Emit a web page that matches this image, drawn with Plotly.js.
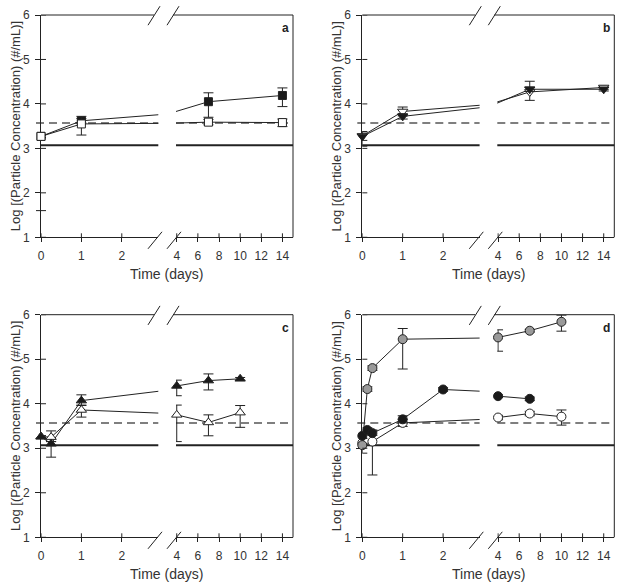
<!DOCTYPE html>
<html><head><meta charset="utf-8">
<script src="https://cdn.plot.ly/plotly-3.0.1.min.js"></script>
<style>html,body{margin:0;padding:0;background:#fff}#chart{width:621px;height:586px}</style>
</head><body><div id="chart"></div>
<script>
// ---------- data ----------
const yTicks = [1, 2, 3, 4, 5, 6];
const xTicksLeft = [0, 1, 2];
const xTicksRight = [4, 6, 8, 10, 12, 14];
const refDashed = 3.57;
const refSolid = 3.07;
const extraTickA = [1.6];
const panelLetters = ['a', 'b', 'c', 'd'];

// panel a
const aX = [0, 1, 7, 14];
const aFilledY = [3.27, 3.62, 4.05, 4.19];
const aFilledErrUp = [0.03, 0.05, 0.20, 0.17];
const aFilledErrDn = [0.03, 0.05, 0.35, 0.25];
const aOpenY = [3.27, 3.55, 3.59, 3.58];
const aOpenErrUp = [0.03, 0.17, 0.06, 0.08];
const aOpenErrDn = [0.03, 0.25, 0.06, 0.09];

// panel b
const bX = [0, 1, 7, 14];
const bFilledY = [3.27, 3.72, 4.33, 4.33];
const bFilledErrUp = [0.10, 0.06, 0.05, 0.04];
const bFilledErrDn = [0.22, 0.06, 0.05, 0.04];
const bOpenY = [3.28, 3.83, 4.27, 4.37];
const bOpenErrUp = [0.10, 0.10, 0.24, 0.04];
const bOpenErrDn = [0.10, 0.10, 0.19, 0.05];

// panel c
const cX = [0, 0.25, 1, 4, 7, 10];
const cFilledY = [3.26, 3.10, 4.07, 4.40, 4.52, 4.56];
const cFilledErrUp = [0.02, 0.05, 0.13, 0.13, 0.15, 0.03];
const cFilledErrDn = [0.02, 0.30, 0.10, 0.22, 0.21, 0.03];
const cOpenY = [3.26, 3.25, 3.86, 3.75, 3.58, 3.80];
const cOpenErrUp = [0.02, 0.14, 0.10, 0.22, 0.17, 0.16];
const cOpenErrDn = [0.02, 0.10, 0.16, 0.60, 0.30, 0.33];

// panel d
const dGrayX = [0, 0.125, 0.25, 1, 4, 7, 10];
const dGrayY = [3.07, 4.33, 4.80, 5.45, 5.49, 5.64, 5.84];
const dGrayErrUp = [0.15, 0.05, 0.05, 0.24, 0.17, 0.03, 0.15];
const dGrayErrDn = [0.18, 0.05, 0.05, 0.67, 0.31, 0.03, 0.21];
const dBlackX = [0, 0.125, 0.25, 1, 2, 4, 7];
const dBlackY = [3.28, 3.41, 3.34, 3.65, 4.32, 4.17, 4.11];
const dBlackErrUp = [0.05, 0.05, 0.05, 0.08, 0.04, 0.03, 0.04];
const dBlackErrDn = [0.05, 0.05, 0.05, 0.08, 0.04, 0.03, 0.04];
const dOpenX = [0, 0.125, 0.25, 1, 4, 7, 10];
const dOpenY = [3.12, 3.20, 3.15, 3.57, 3.69, 3.78, 3.71];
const dOpenErrUp = [0.05, 0.05, 0.26, 0.08, 0.05, 0.05, 0.15];
const dOpenErrDn = [0.05, 0.05, 0.75, 0.08, 0.05, 0.05, 0.19];

// ---------- layout geometry ----------
const W = 621, H = 586;
const FONT = 'Liberation Sans, Arial, sans-serif';
const INK = '#222';
const px = v => v / W;
const py = v => 1 - v / H;
const SEG1W = 117.3, SEG2L = 135, PW = 252;
const range1 = [0, 2.904];
const range2 = [3.93, 15];

const panels = [
  {L: 41,    T: 15,    B: 237.3, series: [
    {x: aX, y: aFilledY, up: aFilledErrUp, dn: aFilledErrDn, symbol: 'square', fill: '#1a1a1a', size: 8},
    {x: aX, y: aOpenY, up: aOpenErrUp, dn: aOpenErrDn, symbol: 'square', fill: '#ffffff', size: 8}]},
  {L: 362.3, T: 15,    B: 237.3, series: [
    {x: bX, y: bOpenY, up: bOpenErrUp, dn: bOpenErrDn, symbol: 'triangle-down', fill: '#ffffff', size: 9},
    {x: bX, y: bFilledY, up: bFilledErrUp, dn: bFilledErrDn, symbol: 'triangle-down', fill: '#1a1a1a', size: 9}]},
  {L: 41,    T: 314.7, B: 537.3, series: [
    {x: cX, y: cOpenY, up: cOpenErrUp, dn: cOpenErrDn, symbol: 'triangle-up', fill: '#ffffff', size: 9},
    {x: cX, y: cFilledY, up: cFilledErrUp, dn: cFilledErrDn, symbol: 'triangle-up', fill: '#1a1a1a', size: 9}]},
  {L: 362.3, T: 314.7, B: 537.3, series: [
    {x: dOpenX, y: dOpenY, up: dOpenErrUp, dn: dOpenErrDn, symbol: 'circle', fill: '#ffffff', size: 9},
    {x: dGrayX, y: dGrayY, up: dGrayErrUp, dn: dGrayErrDn, symbol: 'circle', fill: '#9a9a9a', size: 9},
    {x: dBlackX, y: dBlackY, up: dBlackErrUp, dn: dBlackErrDn, symbol: 'circle', fill: '#1a1a1a', size: 9}]}
];

const layout = {
  width: W, height: H,
  margin: {l: 0, r: 0, t: 0, b: 0},
  paper_bgcolor: '#fff', plot_bgcolor: 'rgba(0,0,0,0)',
  showlegend: false,
  font: {family: FONT, color: '#333'},
  shapes: [], annotations: []
};
const data = [];
const tickFont = {family: FONT, size: 12, color: '#333'};

panels.forEach((p, i) => {
  const n1 = 2 * i + 1, n2 = 2 * i + 2;
  const xr1 = n1 === 1 ? 'x' : 'x' + n1, xr2 = 'x' + n2;
  const yN = i + 1, yr = yN === 1 ? 'y' : 'y' + yN;
  const xk = n => (n === 1 ? 'xaxis' : 'xaxis' + n);
  const yk = n => (n === 1 ? 'yaxis' : 'yaxis' + n);
  const yDom = [py(p.B), py(p.T)];
  const segs = [
    {ref: xr1, n: n1, dom: [px(p.L), px(p.L + SEG1W)], range: range1, ticks: xTicksLeft},
    {ref: xr2, n: n2, dom: [px(p.L + SEG2L), px(p.L + PW)], range: range2, ticks: xTicksRight}
  ];
  const ln = {color: INK, width: 1};
  segs.forEach(s => {
    layout[xk(s.n)] = {
      domain: s.dom, range: s.range, anchor: yr, autorange: false,
      tickmode: 'array', tickvals: s.ticks, ticktext: s.ticks.map(String),
      ticks: 'outside', ticklen: 4, tickwidth: 1, tickcolor: INK,
      showline: true, linecolor: INK, linewidth: 1, mirror: false,
      showgrid: false, zeroline: false, tickfont: tickFont,
      ticklabelstandoff: 3, layer: 'below traces', fixedrange: true
    };
    // inner half of the crossing ticks
    s.ticks.forEach(v => layout.shapes.push({type: 'line', xref: s.ref, yref: 'paper',
      x0: v, x1: v, y0: py(p.B), y1: py(p.B - 4), line: ln}));
  });
  layout[yk(yN)] = {
    domain: yDom, range: [1, 6], anchor: xr1, autorange: false,
    tickmode: 'array', tickvals: yTicks, ticktext: yTicks.map(String),
    ticks: 'outside', ticklen: 5, tickwidth: 1, tickcolor: INK,
    showline: true, linecolor: INK, linewidth: 1,
    showgrid: false, zeroline: false, tickfont: tickFont,
    ticklabelstandoff: 3, layer: 'below traces', fixedrange: true
  };
  yTicks.forEach(v => layout.shapes.push({type: 'line', xref: 'paper', yref: yr,
    x0: px(p.L), x1: px(p.L + 5), y0: v, y1: v, line: ln}));

  // frame: top pieces and right side
  layout.shapes.push(
    {type: 'line', xref: 'paper', yref: 'paper', x0: px(p.L), x1: px(p.L + 113), y0: py(p.T), y1: py(p.T), line: ln},
    {type: 'line', xref: 'paper', yref: 'paper', x0: px(p.L + 132), x1: px(p.L + PW), y0: py(p.T), y1: py(p.T), line: ln},
    {type: 'line', xref: 'paper', yref: 'paper', x0: px(p.L + PW), x1: px(p.L + PW), y0: py(p.T), y1: py(p.B), line: ln}
  );
  // break marks
  [[113, 0.7], [132, 0.7]].forEach(([dx, dy]) => {
    const cx = p.L + dx, cy = p.T + dy;
    layout.shapes.push({type: 'line', xref: 'paper', yref: 'paper',
      x0: px(cx - 6), y0: py(cy + 9.5), x1: px(cx + 6), y1: py(cy - 9.5), line: ln});
  });
  [[114, 3], [133, 3]].forEach(([dx, dy]) => {
    const cx = p.L + dx, cy = p.B + dy;
    layout.shapes.push({type: 'line', xref: 'paper', yref: 'paper',
      x0: px(cx - 7), y0: py(cy + 8.5), x1: px(cx + 7), y1: py(cy - 8.5), line: ln});
  });
  // reference lines
  const dashLine = {color: '#555', width: 1.5, dash: '8px,5px'};
  const solidLine = {color: INK, width: 2};
  [[p.L - 5, p.L + SEG1W], [p.L + SEG2L, p.L + PW]].forEach(([a, b], k) => {
    layout.shapes.push({type: 'line', layer: 'below', xref: 'paper', yref: yr,
      x0: px(a), x1: px(b), y0: refDashed, y1: refDashed, line: dashLine});
    layout.shapes.push({type: 'line', layer: 'below', xref: 'paper', yref: yr,
      x0: px(k === 0 ? p.L : a), x1: px(b), y0: refSolid, y1: refSolid, line: solidLine});
  });
  if (i === 0) {
    extraTickA.forEach(v => layout.shapes.push({type: 'line', xref: 'paper', yref: yr,
      x0: px(p.L - 5), x1: px(p.L + 5), y0: v, y1: v, line: ln}));
  }

  // annotations
  layout.annotations.push(
    {xref: 'paper', yref: 'paper', x: px(p.L + 244), y: py(p.T + 13), text: '<b>' + panelLetters[i] + '</b>',
     showarrow: false, xanchor: 'center', yanchor: 'middle', font: {family: FONT, size: 12, color: '#222'}},
    {xref: 'paper', yref: 'paper', x: px(p.L + 126), y: py(p.B + 37), text: 'Time (days)',
     showarrow: false, xanchor: 'center', yanchor: 'middle', font: {family: FONT, size: 14, color: '#333'}},
    {xref: 'paper', yref: 'paper', x: px(p.L - 26), y: py((p.T + p.B) / 2), text: 'Log [(Particle Concentration) (#/mL)]',
     textangle: -90, showarrow: false, xanchor: 'center', yanchor: 'middle', font: {family: FONT, size: 13, color: '#333'}}
  );

  // traces: lines first (all points, clipped per segment), then markers inside each segment
  segs.forEach(s => {
    p.series.forEach(se => {
      data.push({type: 'scatter', mode: 'lines', x: se.x, y: se.y, xaxis: s.ref, yaxis: yr,
        line: {color: INK, width: 1}, hoverinfo: 'skip'});
    });
  });
  segs.forEach(s => {
    p.series.forEach(se => {
      const idx = se.x.map((v, j) => j).filter(j => se.x[j] >= s.range[0] && se.x[j] <= s.range[1]);
      data.push({type: 'scatter', mode: 'markers', cliponaxis: false,
        x: idx.map(j => se.x[j]), y: idx.map(j => se.y[j]), xaxis: s.ref, yaxis: yr,
        marker: {symbol: se.symbol, size: se.size, color: se.fill, line: {color: INK, width: 1}},
        error_y: {type: 'data', symmetric: false, array: idx.map(j => se.up[j]), arrayminus: idx.map(j => se.dn[j]),
          color: INK, thickness: 1, width: 5},
        hoverinfo: 'skip'});
    });
  });
});

Plotly.newPlot('chart', data, layout, {staticPlot: true, displayModeBar: false});
</script>
</body></html>
